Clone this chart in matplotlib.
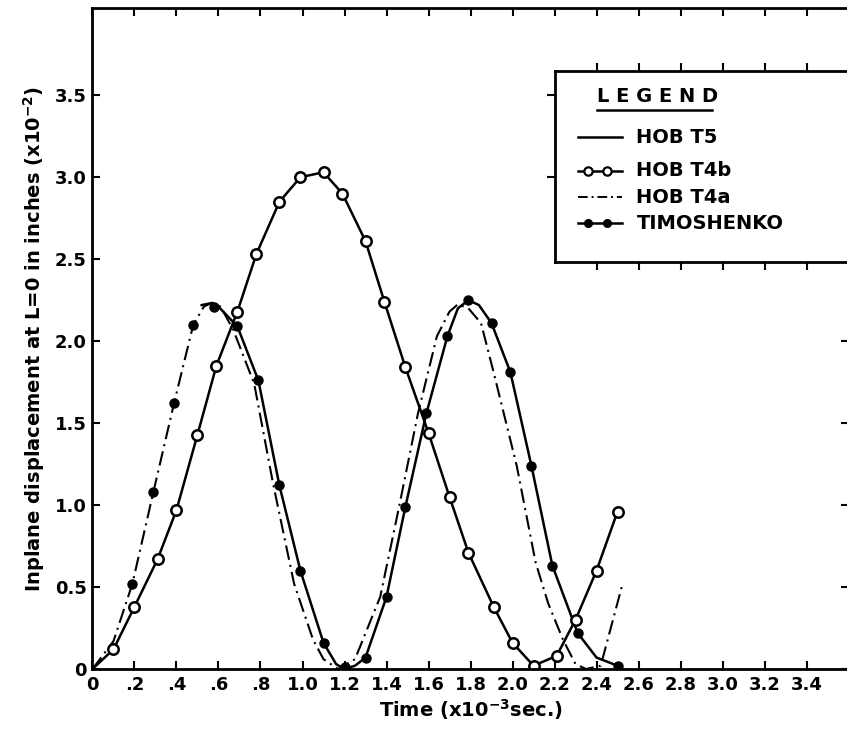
import numpy as np
import matplotlib
matplotlib.use('Agg')
import matplotlib.pyplot as plt

# values (time in 1e-3 s, displacement in 1e-2 in)
# HOB T4b - open circles with solid line
t4b_x = [0.0, 0.10, 0.20, 0.31, 0.40, 0.50, 0.59, 0.69, 0.78, 0.89, 0.99, 1.10,
         1.19, 1.30, 1.39, 1.49, 1.60, 1.70, 1.79, 1.91, 2.00, 2.10, 2.21, 2.30,
         2.40, 2.50]
t4b_y = [0.0, 0.12, 0.38, 0.67, 0.97, 1.43, 1.85, 2.18, 2.53, 2.85, 3.00, 3.03,
         2.90, 2.61, 2.24, 1.84, 1.44, 1.05, 0.71, 0.38, 0.16, 0.02, 0.08, 0.30,
         0.60, 0.96]

# HOB T4a - dash-dot
t4a_x = [0.0, 0.10, 0.19, 0.29, 0.39, 0.48, 0.53, 0.57, 0.61, 0.67, 0.77, 0.86,
         0.96, 1.05, 1.10, 1.17, 1.25, 1.37, 1.46, 1.55, 1.64, 1.70, 1.74, 1.79,
         1.85, 1.91, 2.02, 2.11, 2.17, 2.24, 2.30, 2.35, 2.42, 2.47, 2.52]
t4a_y = [0.0, 0.17, 0.52, 1.08, 1.63, 2.10, 2.21, 2.235, 2.21, 2.07, 1.74, 1.13,
         0.52, 0.18, 0.06, 0.0, 0.06, 0.44, 0.99, 1.56, 2.03, 2.18, 2.225, 2.20,
         2.11, 1.81, 1.24, 0.65, 0.40, 0.18, 0.03, 0.0, 0.02, 0.26, 0.50]

# HOB T5 - solid line (visible from the first peak onwards)
t5_x = [0.52, 0.56, 0.60, 0.69, 0.79, 0.89, 0.99, 1.10, 1.16, 1.20, 1.25, 1.30,
        1.40, 1.49, 1.59, 1.69, 1.74, 1.79, 1.84, 1.90, 1.99, 2.09, 2.19, 2.31,
        2.40, 2.50]
t5_y = [2.22, 2.23, 2.21, 2.09, 1.76, 1.12, 0.60, 0.16, 0.03, 0.0, 0.02, 0.07,
        0.44, 0.99, 1.56, 2.03, 2.20, 2.25, 2.22, 2.11, 1.81, 1.24, 0.63, 0.22,
        0.07, 0.02]

# TIMOSHENKO - filled dots
timo_x = [0.19, 0.29, 0.39, 0.48, 0.58, 0.69, 0.79, 0.89, 0.99, 1.10, 1.20, 1.30,
          1.40, 1.49, 1.59, 1.69, 1.79, 1.90, 1.99, 2.09, 2.19, 2.31, 2.50]
timo_y = [0.52, 1.08, 1.62, 2.10, 2.21, 2.09, 1.76, 1.12, 0.60, 0.16, 0.01, 0.07,
          0.44, 0.99, 1.56, 2.03, 2.25, 2.11, 1.81, 1.24, 0.63, 0.22, 0.02]

xticks = np.arange(0, 3.5, 0.2)
xticklabels = ['0', '.2', '.4', '.6', '.8', '1.0', '1.2', '1.4', '1.6', '1.8',
               '2.0', '2.2', '2.4', '2.6', '2.8', '3.0', '3.2', '3.4']
yticks = [0, 0.5, 1.0, 1.5, 2.0, 2.5, 3.0, 3.5]
yticklabels = ['0', '0.5', '1.0', '1.5', '2.0', '2.5', '3.0', '3.5']

legend_names = ['HOB T5', 'HOB T4b', 'HOB T4a', 'TIMOSHENKO']

plt.rcParams['font.family'] = 'DejaVu Sans'
plt.rcParams['font.weight'] = 'bold'
plt.rcParams['axes.labelweight'] = 'bold'

dashdot = (0, (7, 2.5, 1, 2.5))

fig = plt.figure(figsize=(8.47, 7.44), dpi=100)
ax = fig.add_axes([0.1092, 0.1008, 0.8926, 0.888])

ax.plot(t4a_x, t4a_y, color='black', lw=1.5, linestyle=dashdot)
ax.plot(t5_x, t5_y, color='black', lw=1.8)
ax.plot(timo_x, timo_y, linestyle='none', marker='o', ms=6.5, color='black')
ax.plot(t4b_x, t4b_y, color='black', lw=1.8, zorder=1.5)
ax.plot(t4b_x[1:], t4b_y[1:], linestyle='none', marker='o', ms=7.5,
        mfc='white', mec='black', mew=1.8)

ax.set_xlim(0, 3.6)
ax.set_ylim(0, 4.03)
ax.set_xticks(xticks)
ax.set_xticklabels(xticklabels, fontsize=13)
ax.set_yticks(yticks)
ax.set_yticklabels(yticklabels, fontsize=13)
ax.tick_params(direction='in', top=True, right=True, length=6, width=1.5)
ax.tick_params(axis='x', pad=5)
ax.tick_params(axis='y', pad=4)
for s in ['left', 'bottom', 'top']:
    ax.spines[s].set_linewidth(2)
ax.spines['right'].set_visible(False)

ax.set_xlabel('Time (x10$^{-3}$sec.)', fontsize=14, labelpad=2)
ax.set_ylabel('Inplane displacement at L=0 in inches (x10$^{-2}$)',
              fontsize=14, labelpad=6)

# legend box (drawn as a framed inset, ticks pointing outward)
leg = ax.inset_axes([2.20, 2.48, 1.45, 1.17], transform=ax.transData)
leg.set_xlim(2.20, 3.65)
leg.set_ylim(2.48, 3.65)
leg.set_xticks(np.arange(2.4, 3.5, 0.2))
leg.set_yticks([3.0, 3.5])
leg.tick_params(direction='out', top=True, bottom=True, left=True,
                labelbottom=False, labelleft=False, length=6, width=1.5)
for s in ['left', 'bottom', 'top']:
    leg.spines[s].set_linewidth(2)
leg.spines['right'].set_visible(False)

leg.text(2.40, 3.49, 'L E G E N D', fontsize=14, va='center', ha='left')
leg.plot([2.40, 2.95], [3.41, 3.41], color='black', lw=1.8)

rows_y = [3.245, 3.04, 2.878, 2.72]
handle_x = [2.31, 2.52]
styles = [dict(color='black', lw=1.8),
          dict(color='black', lw=1.8, marker='o', ms=6, mfc='white', mew=1.6,
               markevery=[1, 2]),
          dict(color='black', lw=1.4, linestyle=(0, (5, 2, 1, 2))),
          dict(color='black', lw=1.8, marker='o', ms=5.5, markevery=[1, 2])]
for name, yy, st in zip(legend_names, rows_y, styles):
    hx = [handle_x[0], handle_x[0] + 0.05, handle_x[1] - 0.07, handle_x[1]]
    leg.plot(hx, [yy] * 4, **st)
    leg.text(2.59, yy, name, fontsize=14, va='center', ha='left')

fig.savefig('out.png', dpi=100)
